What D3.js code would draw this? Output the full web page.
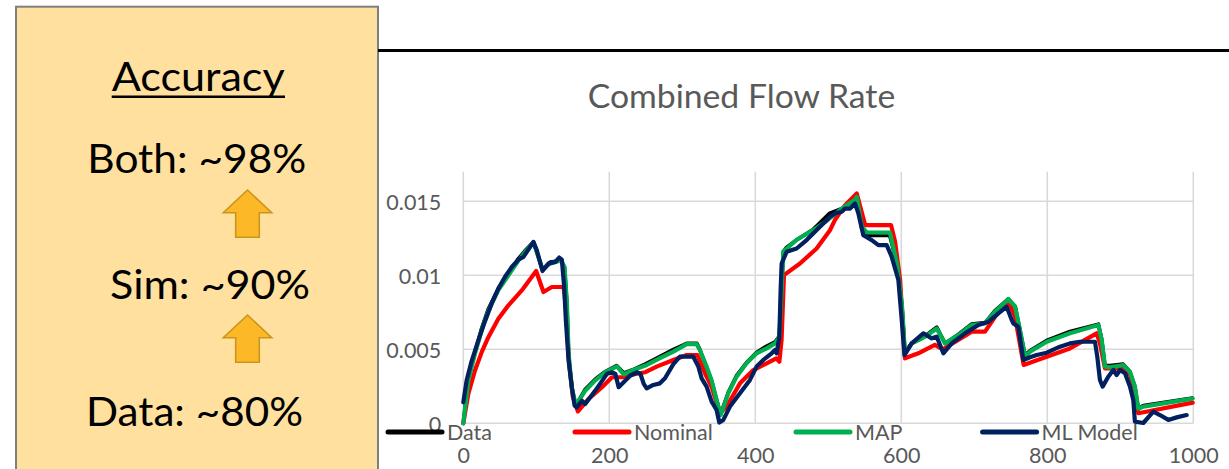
<!DOCTYPE html>
<html>
<head>
<meta charset="utf-8">
<script src="https://cdn.jsdelivr.net/npm/d3@7"></script>
<style>
  html, body { margin: 0; padding: 0; background: #ffffff; }
  svg { display: block; }
</style>
</head>
<body>
<svg id="chart" width="1229" height="469"></svg>
<script>
// ---- Chart data -------------------------------------------------------
const chartTitle = "Combined Flow Rate";
const xTicks = [0, 200, 400, 600, 800, 1000];
const yTicks = [0, 0.005, 0.01, 0.015];
const seriesNames = ["Data", "Nominal", "MAP", "ML Model"];

const accuracyHeading = "Accuracy";
const accuracyLines = ["Both: ~98%", "Sim: ~90%", "Data: ~80%"];

// [time step, flow rate]
const dataSeries = [
  [0,0],[7,0.0030],[16,0.0048],[25,0.0064],[34,0.0077],[48,0.0091],[62,0.0101],[75,0.0111],
  [87,0.0118],[96,0.01225],[108.5,0.0104],[119,0.0109],[134,0.0110],[138.7,0.0105],[142,0.0081],
  [144,0.0047],[148.7,0.0024],[154,0.0012],[167,0.0023],[181,0.0030],[194.5,0.0035],[210,0.0039],
  [220,0.0034],[231,0.0036],[249,0.0040],[269,0.0045],[288,0.0050],[306,0.0054],[320,0.0054],
  [324,0.0050],[333,0.0038],[340,0.0029],[347,0.0016],[352.5,0.0006],[363,0.0021],[374,0.0032],
  [388,0.0041],[402,0.0048],[415,0.0052],[427,0.0055],[433,0.0059],[436,0.0090],[438.4,0.0116],
  [443,0.0119],[457,0.0124],[479,0.0131],[502,0.0142],[518,0.0145],[537,0.0151],[539,0.0153],
  [546,0.0131],[553,0.0127],[584,0.0127],[594,0.0108],[601,0.0079],[605,0.0048],[614,0.0054],
  [627,0.0057],[648.5,0.0065],[660,0.0054],[678,0.0060],[696,0.0067],[715,0.0068],[728,0.0076],
  [746.6,0.0084],[756,0.0079],[762.6,0.0063],[769.5,0.0046],[776,0.0049],[799,0.0056],[831,0.0062],
  [870,0.0067],[874.5,0.0057],[879,0.0039],[886,0.0039],[904,0.0040],[913,0.0035],[920,0.0025],
  [924.7,0.0010],[931.5,0.0012],[999,0.0017]
];

const nominalSeries = [
  [0,0],[6.9,0.0020],[16,0.00357],[25.2,0.00481],[34.3,0.00582],[48,0.00706],[61.8,0.00797],
  [80.1,0.00898],[99.8,0.01029],[109.8,0.00887],[121.3,0.00921],[134.8,0.00921],[138,0.0091],
  [141,0.0075],[145,0.0040],[150,0.0018],[157,0.0008],[171.6,0.00165],[190,0.00244],[203.7,0.00311],
  [217.4,0.00311],[235.7,0.00334],[249.4,0.00345],[264.8,0.00383],[287.7,0.00428],[306,0.00461],
  [320.6,0.00461],[331,0.00338],[340,0.00248],[351.6,0.00068],[360.7,0.00113],[379,0.0027],
  [397.3,0.0036],[415.5,0.00405],[428.8,0.00439],[432.9,0.00416],[436,0.00563],[439.3,0.01001],
  [461.2,0.0108],[484,0.01181],[502.3,0.01305],[509,0.01373],[523,0.01474],[539,0.01553],
  [550.5,0.01339],[586,0.01339],[591.5,0.01226],[598.4,0.00968],[605,0.00439],[623.3,0.00473],
  [646,0.0053],[657,0.0050],[678,0.00563],[696.4,0.00619],[714.7,0.00619],[728.4,0.0072],
  [746.6,0.0083],[755.8,0.0072],[767.6,0.00394],[799.2,0.0045],[831,0.00506],[867.6,0.00608],
  [872.1,0.0054],[879,0.00371],[904.1,0.00371],[913,0.0033],[920,0.00225],[924.7,0.00068],
  [999.2,0.0014]
];

const mapSeries = [
  [0,0],[6.9,0.0029],[16,0.0047],[25.2,0.0063],[34.3,0.0076],[48,0.0090],[61.8,0.0100],
  [75.5,0.0110],[87,0.0117],[96.1,0.01225],[108.5,0.0104],[119,0.0108],[134,0.0110],
  [138.7,0.01056],[141.9,0.0081],[144.2,0.0047],[148.7,0.0024],[154.2,0.0012],[167,0.0022],
  [180.8,0.0029],[194.5,0.00345],[210.5,0.00384],[219.7,0.0033],[231,0.00357],[249.4,0.0039],
  [269.4,0.0044],[287.7,0.00484],[306,0.00535],[319.6,0.00535],[324,0.00495],[333.3,0.00383],
  [340,0.00293],[347,0.00158],[352.5,0.00056],[363,0.00203],[374.4,0.00315],[388,0.00405],
  [401.8,0.00473],[415.5,0.00506],[427,0.0054],[433,0.00585],[436,0.0090],[438.4,0.0116],
  [443,0.0118],[456.6,0.0124],[479.4,0.01305],[495.5,0.0136],[518.4,0.0145],[536.6,0.0151],
  [539,0.0153],[545.7,0.0133],[552.6,0.0129],[584.5,0.01288],[594,0.0108],[601,0.0079],
  [605,0.0047],[614.2,0.0054],[632.5,0.00585],[648.5,0.0064],[659.9,0.0054],[678,0.00596],
  [696.4,0.00664],[714.7,0.00675],[728.4,0.00754],[746.6,0.0084],[755.8,0.0079],[762.6,0.0063],
  [769.5,0.0045],[776.3,0.00484],[799.2,0.00551],[831,0.00608],[869.9,0.00664],[874.5,0.00563],
  [879,0.00383],[885.9,0.00378],[904.1,0.00394],[913.2,0.00349],[920,0.00248],[924.7,0.00098],
  [931.5,0.00113],[999,0.00167]
];

const mlModelSeries = [
  [0,0.00142],[4.6,0.0029],[11.4,0.0042],[20.6,0.0056],[29.7,0.0069],[38.9,0.0081],[48,0.0091],
  [57.2,0.0099],[66.4,0.01056],[75.5,0.01106],[82.4,0.01124],[87,0.01158],[96.1,0.01225],
  [100.7,0.01169],[108.5,0.01029],[116.7,0.01079],[125.9,0.0109],[131.4,0.0112],[135,0.01106],
  [138.2,0.00921],[140.5,0.00695],[144.2,0.00424],[148.7,0.00244],[152.4,0.0012],[155.6,0.00108],
  [162.5,0.00153],[167,0.00131],[180.8,0.00221],[196.8,0.00334],[203.7,0.00345],[208.3,0.00334],
  [212.8,0.00244],[222,0.00289],[228.9,0.00323],[238,0.00345],[242.6,0.00334],[247.2,0.00266],
  [251.2,0.00236],[260.3,0.00259],[269.4,0.0027],[276.3,0.00304],[287.7,0.0040],[296.8,0.0045],
  [315,0.0045],[322,0.00383],[326.5,0.00304],[333.3,0.00248],[340.2,0.00146],[347,0.0009],
  [350.7,0.00005],[356.2,0.00023],[365.3,0.00113],[379,0.00203],[392.7,0.00293],[401.8,0.00383],
  [411,0.00428],[422.4,0.00473],[427,0.00495],[429.2,0.00473],[432.9,0.00585],[434.7,0.009],
  [436.1,0.0108],[443,0.01159],[456.6,0.01181],[470.3,0.01238],[488.6,0.01328],[502.3,0.01395],
  [509.2,0.01418],[518.4,0.01429],[523,0.01451],[529.8,0.01451],[536.6,0.01485],[541.2,0.01418],
  [548,0.01271],[559.5,0.01238],[568.6,0.01204],[580,0.01204],[586.9,0.01125],[596,0.00968],
  [600.6,0.00698],[604.3,0.00461],[614.2,0.0054],[630.2,0.00608],[641.6,0.00574],[648.5,0.00585],
  [657.6,0.00473],[669,0.0054],[687.3,0.00608],[705.6,0.00664],[719.3,0.00686],[733,0.00743],
  [744.4,0.00788],[751.3,0.00698],[753.5,0.00675],[760.3,0.00653],[767.2,0.00428],[776.3,0.00446],
  [785.5,0.00461],[799.2,0.00477],[817.4,0.00518],[831,0.0054],[844.7,0.00551],[865.3,0.00551],
  [868.5,0.0045],[872.1,0.00293],[875.8,0.00248],[883.5,0.00315],[890.4,0.0036],[895,0.00326],
  [899.5,0.0036],[906.4,0.00338],[913.2,0.00248],[917.8,0.00158],[920,0.00011],[931.5,0.00002],
  [945.2,0.00079],[954.3,0.00056],[965.8,0.00023],[977.2,0.0004],[990.9,0.00056]
];

// ---- Layout & styles --------------------------------------------------
const FONT = "Lato, 'Liberation Sans', sans-serif";
const GRAY_TEXT = "#595959";
const GRID = "#d9d9d9";
const seriesStyles = [
  { color: "#000000", width: 3.6 },
  { color: "#ff0000", width: 4.2 },
  { color: "#00b050", width: 4.2 },
  { color: "#002060", width: 4.2 }
];

const svg = d3.select("#chart");

// Fits a text element to a given width (keeps it as live text)
function fitWidth(sel, w) {
  const node = sel.node();
  const cur = node.getComputedTextLength();
  if (cur > 0 && Math.abs(cur - w) > 1) {
    sel.attr("textLength", w).attr("lengthAdjust", "spacingAndGlyphs");
  }
  return sel;
}

// ---- Left accuracy panel ----------------------------------------------
svg.append("rect")
  .attr("x", 16).attr("y", 6.7)
  .attr("width", 362).attr("height", 480)
  .attr("fill", "#ffe09e")
  .attr("stroke", "#7f7f7f")
  .attr("stroke-width", 2);

const panelText = [
  { t: accuracyHeading, x: 111.7, y: 90.7, w: 173 },
  { t: accuracyLines[0], x: 87.3, y: 173.3, w: 219 },
  { t: accuracyLines[1], x: 110, y: 299.3, w: 200 },
  { t: accuracyLines[2], x: 86, y: 426, w: 217 }
];
panelText.forEach(p => {
  const s = svg.append("text")
    .attr("x", p.x).attr("y", p.y)
    .attr("font-family", FONT)
    .attr("font-size", 41)
    .attr("fill", "#000000")
    .text(p.t);
  fitWidth(s, p.w);
});
// underline of the heading
svg.append("line")
  .attr("x1", 111.7).attr("x2", 285)
  .attr("y1", 96.7).attr("y2", 96.7)
  .attr("stroke", "#000").attr("stroke-width", 2.4);

// block arrows pointing up
function upArrow(cx, tipY) {
  const headH = 22.7, totalH = 47.3, headHalf = 24.2, shaftHalf = 11.8;
  const p = d3.path();
  p.moveTo(cx, tipY);
  p.lineTo(cx + headHalf, tipY + headH);
  p.lineTo(cx + shaftHalf, tipY + headH);
  p.lineTo(cx + shaftHalf, tipY + totalH);
  p.lineTo(cx - shaftHalf, tipY + totalH);
  p.lineTo(cx - shaftHalf, tipY + headH);
  p.lineTo(cx - headHalf, tipY + headH);
  p.closePath();
  return p.toString();
}
[190, 315].forEach(tip => {
  svg.append("path")
    .attr("d", upArrow(247.5, tip))
    .attr("fill", "#fdb827")
    .attr("stroke", "#c9961c")
    .attr("stroke-width", 1.6)
    .attr("stroke-linejoin", "miter");
});

// separator rule across the top of the chart area
svg.append("line")
  .attr("x1", 378).attr("x2", 1229)
  .attr("y1", 50.5).attr("y2", 50.5)
  .attr("stroke", "#000").attr("stroke-width", 3);

// ---- Chart -------------------------------------------------------------
const x = d3.scaleLinear().domain([0, 1000]).range([463.3, 1193.3]);
const y = d3.scaleLinear().domain([0, 0.017]).range([423.3, 171.7]);

const title = svg.append("text")
  .attr("x", 587.7).attr("y", 108.3)
  .attr("font-family", FONT)
  .attr("font-size", 33)
  .attr("fill", GRAY_TEXT)
  .text(chartTitle);
fitWidth(title, 307.5);

// gridlines
const grid = svg.append("g");
grid.selectAll("line.h").data(yTicks).join("line")
  .attr("x1", x(0)).attr("x2", x(1000))
  .attr("y1", d => y(d)).attr("y2", d => y(d))
  .attr("stroke", GRID).attr("stroke-width", 1.6);
grid.selectAll("line.v").data(xTicks).join("line")
  .attr("x1", d => x(d)).attr("x2", d => x(d))
  .attr("y1", y(0)).attr("y2", y.range()[1])
  .attr("stroke", GRID).attr("stroke-width", 1.6);

// y axis labels
const yAxis = svg.append("g")
  .attr("transform", `translate(${x(0)},0)`)
  .call(d3.axisLeft(y).tickValues(yTicks).tickSize(0).tickPadding(22)
    .tickFormat(d => String(d)));
yAxis.select(".domain").remove();
yAxis.selectAll("text")
  .attr("font-family", FONT).attr("font-size", 21.5)
  .attr("fill", GRAY_TEXT).attr("dy", "0.36em");

// x axis labels
const xAxis = svg.append("g")
  .attr("transform", `translate(0,${y(0)})`)
  .call(d3.axisBottom(x).tickValues(xTicks).tickSize(0).tickFormat(d => String(d)));
xAxis.select(".domain").remove();
xAxis.selectAll("text")
  .attr("font-family", FONT).attr("font-size", 21.5)
  .attr("fill", GRAY_TEXT).attr("dy", null).attr("y", 40);

// series lines
const line = d3.line().x(d => x(d[0])).y(d => y(d[1]));
const allSeries = [dataSeries, nominalSeries, mapSeries, mlModelSeries];
svg.append("g").selectAll("path").data(allSeries).join("path")
  .attr("d", line)
  .attr("fill", "none")
  .attr("stroke", (d, i) => seriesStyles[i].color)
  .attr("stroke-width", (d, i) => seriesStyles[i].width)
  .attr("stroke-linejoin", "round")
  .attr("stroke-linecap", "round");

// legend
const legendX = [388, 575, 796, 982.6];
const legendY = 432;
const lg = svg.append("g").selectAll("g").data(seriesNames).join("g")
  .attr("transform", (d, i) => `translate(${legendX[i]},${legendY})`);
lg.append("line")
  .attr("x1", 0).attr("x2", 54).attr("y1", 0).attr("y2", 0)
  .attr("stroke", (d, i) => seriesStyles[i].color)
  .attr("stroke-width", 5)
  .attr("stroke-linecap", "round");
lg.append("text")
  .attr("x", 59).attr("y", 8.4)
  .attr("font-family", FONT).attr("font-size", 21.5)
  .attr("fill", GRAY_TEXT)
  .text(d => d);
</script>
</body>
</html>
